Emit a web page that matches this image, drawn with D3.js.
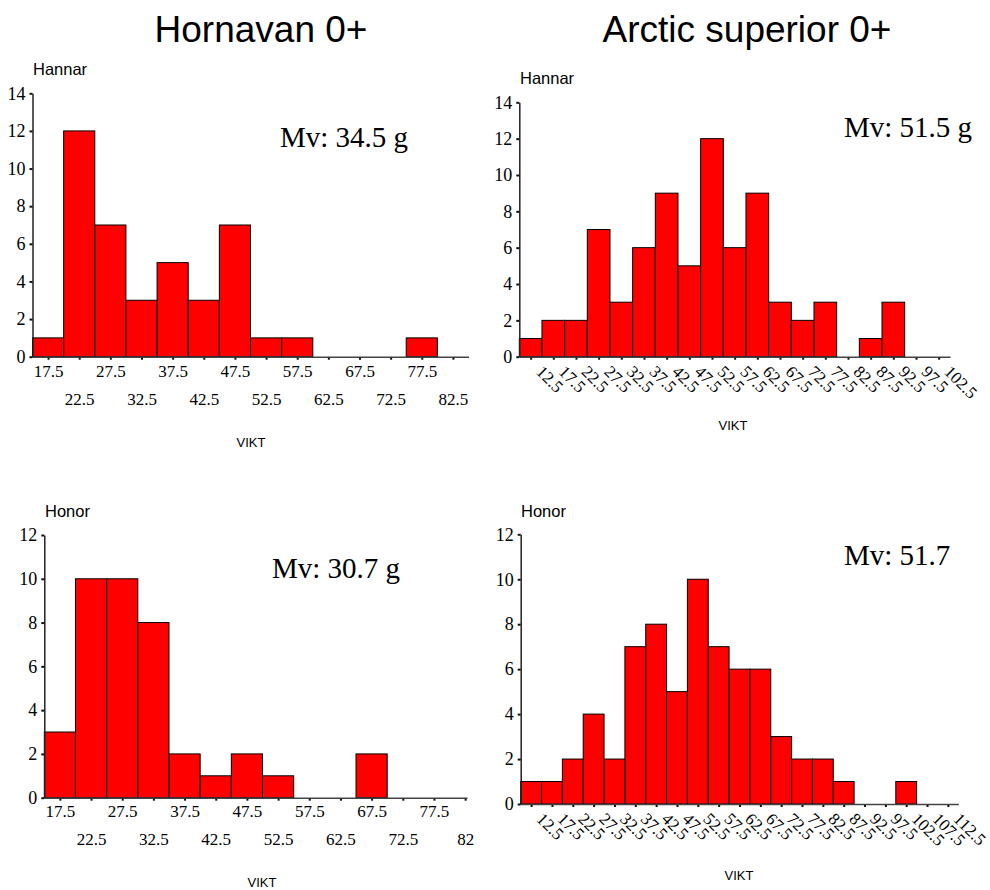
<!DOCTYPE html>
<html>
<head>
<meta charset="utf-8">
<script src="https://cdn.jsdelivr.net/npm/d3@7"></script>
<style>
  html, body { margin: 0; padding: 0; background: #fff; }
  svg { display: block; }
</style>
</head>
<body>
<svg id="chart" width="990" height="890"></svg>
<script>
// ---------- DATA ----------
const columnTitles = ["Hornavan 0+", "Arctic superior 0+"];
const groupLabels = ["Hannar", "Honor"];
const axisTitle = "VIKT";
const binWidth = 5;

// Hornavan 0+, Hannar: bins starting at 15
const hornavanHannarStart = 15;
const hornavanHannarCounts = [1, 12, 7, 3, 5, 3, 7, 1, 1, 0, 0, 0, 1, 0];
const hornavanHannarTicks = ["17.5","22.5","27.5","32.5","37.5","42.5","47.5","52.5","57.5","62.5","67.5","72.5","77.5","82.5"];
const hornavanHannarMean = "Mv: 34.5 g";

// Hornavan 0+, Honor: bins starting at 15
const hornavanHonorStart = 15;
const hornavanHonorCounts = [3, 10, 10, 8, 2, 1, 2, 1, 0, 0, 2, 0, 0, 0];
const hornavanHonorTicks = ["17.5","22.5","27.5","32.5","37.5","42.5","47.5","52.5","57.5","62.5","67.5","72.5","77.5","82"];
const hornavanHonorMean = "Mv: 30.7 g";

// Arctic superior 0+, Hannar: bins starting at 10
const arcticHannarStart = 10;
const arcticHannarCounts = [1, 2, 2, 7, 3, 6, 9, 5, 12, 6, 9, 3, 2, 3, 0, 1, 3, 0, 0];
const arcticHannarTicks = ["12.5","17.5","22.5","27.5","32.5","37.5","42.5","47.5","52.5","57.5","62.5","67.5","72.5","77.5","82.5","87.5","92.5","97.5","102.5"];
const arcticHannarMean = "Mv: 51.5 g";

// Arctic superior 0+, Honor: bins starting at 10
const arcticHonorStart = 10;
const arcticHonorCounts = [1, 1, 2, 4, 2, 7, 8, 5, 10, 7, 6, 6, 3, 2, 2, 1, 0, 0, 1, 0, 0];
const arcticHonorTicks = ["12.5","17.5","22.5","27.5","32.5","37.5","42.5","47.5","52.5","57.5","62.5","67.5","72.5","77.5","82.5","87.5","92.5","97.5","102.5","107.5","112.5"];
const arcticHonorMean = "Mv: 51.7";

const yTicksHannar = [0, 2, 4, 6, 8, 10, 12, 14];
const yTicksHonor = [0, 2, 4, 6, 8, 10, 12];

// ---------- DRAW ----------
const svg = d3.select("#chart");
const SERIF = "'Liberation Serif', 'Times New Roman', serif";
const SANS = "'Liberation Sans', Arial, sans-serif";

svg.append("text").attr("x", 261).attr("y", 42).attr("text-anchor", "middle")
  .style("font-family", SANS).style("font-size", "37px").attr("fill", "#000").text(columnTitles[0]);
svg.append("text").attr("x", 747).attr("y", 42).attr("text-anchor", "middle")
  .style("font-family", SANS).style("font-size", "37px").attr("fill", "#000").text(columnTitles[1]);

function panel(cfg) {
  const x = d3.scaleLinear().domain([cfg.start, cfg.xEnd]).range([cfg.left, cfg.right]);
  const y = d3.scaleLinear().domain([0, cfg.yMax]).range([cfg.bottom, cfg.top]);
  const g = svg.append("g");

  const bins = cfg.counts.map((c, i) => ({ x0: cfg.start + i * binWidth, x1: cfg.start + (i + 1) * binWidth, c }));

  g.selectAll("rect.bar").data(bins.filter(d => d.c > 0)).join("rect")
    .attr("class", "bar")
    .attr("x", d => x(d.x0))
    .attr("width", d => x(d.x1) - x(d.x0))
    .attr("y", d => y(d.c))
    .attr("height", d => y(0) - y(d.c))
    .attr("fill", "#ff0000")
    .attr("stroke", "#000")
    .attr("stroke-width", 1);

  // x axis
  const centers = bins.map(d => (d.x0 + d.x1) / 2);
  const xAxis = d3.axisBottom(x).tickValues(centers).tickSize(3).tickSizeOuter(0)
    .tickFormat((d, i) => cfg.ticks[i]);
  const xg = g.append("g").attr("transform", `translate(0,${cfg.bottom})`).call(xAxis);
  xg.select(".domain").attr("stroke", "#444").attr("stroke-width", 1.5);
  xg.selectAll(".tick line").attr("stroke", "#111").attr("stroke-width", 2).attr("y1", 1);
  xg.selectAll(".tick text")
    .style("font-family", SERIF).style("font-size", "17px").style("fill", "#000");
  if (cfg.rotate) {
    xg.selectAll(".tick text")
      .attr("x", 0).attr("y", 0).attr("dy", 0)
      .attr("text-anchor", "start")
      .attr("transform", "translate(4,16) rotate(45)");
  } else {
    xg.selectAll(".tick text")
      .attr("dy", 0)
      .attr("y", (d, i) => i % 2 === 0 ? cfg.row1 : cfg.row2);
  }

  // y axis
  const yAxis = d3.axisLeft(y).tickValues(cfg.yTicks).tickSize(3).tickSizeOuter(0).tickPadding(4);
  const yg = g.append("g").attr("transform", `translate(${cfg.left},0)`).call(yAxis);
  yg.select(".domain").attr("stroke", "#222").attr("stroke-width", 1.5);
  yg.selectAll(".tick line").attr("stroke", "#111").attr("stroke-width", 2);
  yg.selectAll(".tick text")
    .style("font-family", SERIF).style("font-size", "18px").style("fill", "#000");

  // labels
  g.append("text").attr("x", cfg.groupX).attr("y", cfg.groupY)
    .style("font-family", SANS).style("font-size", "16.5px").attr("fill", "#000").text(cfg.group);
  g.append("text").attr("x", cfg.meanX).attr("y", cfg.meanY)
    .style("font-family", SERIF).style("font-size", "29px").attr("fill", "#000").text(cfg.mean);
  g.append("text").attr("x", cfg.viktX).attr("y", cfg.viktY).attr("text-anchor", "middle")
    .style("font-family", SANS).style("font-size", "13px").attr("fill", "#000").text(axisTitle);
}

panel({
  counts: hornavanHannarCounts, start: hornavanHannarStart, xEnd: 85, ticks: hornavanHannarTicks,
  left: 32.5, right: 468.5, top: 93.3, bottom: 356.7, yMax: 14, yTicks: yTicksHannar,
  row1: 20, row2: 48, rotate: false,
  group: groupLabels[0], groupX: 33, groupY: 75,
  mean: hornavanHannarMean, meanX: 280, meanY: 147,
  viktX: 251, viktY: 447
});

panel({
  counts: arcticHannarCounts, start: arcticHannarStart, xEnd: 105, ticks: arcticHannarTicks,
  left: 519.3, right: 950, top: 102.3, bottom: 356.7, yMax: 14, yTicks: yTicksHannar,
  rotate: true,
  group: groupLabels[0], groupX: 520, groupY: 84,
  mean: arcticHannarMean, meanX: 844, meanY: 137,
  viktX: 733, viktY: 430
});

panel({
  counts: hornavanHonorCounts, start: hornavanHonorStart, xEnd: 82.8, ticks: hornavanHonorTicks,
  left: 44.3, right: 467, top: 535, bottom: 797.7, yMax: 12, yTicks: yTicksHonor,
  row1: 19, row2: 47, rotate: false,
  group: groupLabels[1], groupX: 45, groupY: 517,
  mean: hornavanHonorMean, meanX: 272, meanY: 578,
  viktX: 262, viktY: 887
});

panel({
  counts: arcticHonorCounts, start: arcticHonorStart, xEnd: 115, ticks: arcticHonorTicks,
  left: 520.7, right: 958.3, top: 534.3, bottom: 804, yMax: 12, yTicks: yTicksHonor,
  rotate: true,
  group: groupLabels[1], groupX: 521, groupY: 517,
  mean: arcticHonorMean, meanX: 844, meanY: 565,
  viktX: 739, viktY: 880
});
</script>
</body>
</html>
